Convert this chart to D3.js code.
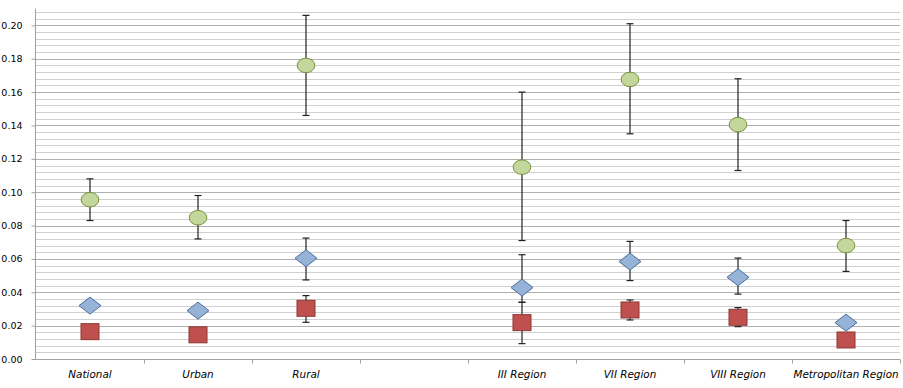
<!DOCTYPE html>
<html>
<head>
<meta charset="utf-8">
<script src="https://cdn.jsdelivr.net/npm/d3@7"></script>
<style>
  body { margin: 0; background: #fff; }
  svg { display: block; }
</style>
</head>
<body>
<div id="chart"></div>
<script>
// categories along the bottom (4th slot is an empty gap)
var categories = ["National", "Urban", "Rural", "", "III Region", "VII Region", "VIII Region", "Metropolitan Region"];

// green circles with error bars
var greenValues = [0.0955, 0.0847, 0.176, null, 0.115, 0.1676, 0.1405, 0.068];
var greenLow    = [0.083, 0.072, 0.146, null, 0.071, 0.135, 0.113, 0.0525];
var greenHigh   = [0.108, 0.098, 0.206, null, 0.160, 0.201, 0.168, 0.083];

// blue diamonds
var blueValues = [0.032, 0.029, 0.0604, null, 0.0428, 0.0584, 0.049, 0.0218];
var blueLow    = [null, null, 0.0474, null, 0.034, 0.047, 0.0389, null];
var blueHigh   = [null, null, 0.0725, null, 0.0625, 0.0705, 0.0605, null];

// red squares
var redValues = [0.0164, 0.0145, 0.0304, null, 0.0218, 0.0294, 0.025, 0.0114];
var redLow    = [null, null, 0.022, null, 0.0092, 0.0234, 0.0194, null];
var redHigh   = [null, null, 0.038, null, 0.034, 0.0354, 0.0308, null];

var yTicks = [0, 0.02, 0.04, 0.06, 0.08, 0.10, 0.12, 0.14, 0.16, 0.18, 0.20];

var width = 903, height = 388;
var margin = {top: 8.7, right: 3, bottom: 29, left: 36};

var svg = d3.select("#chart").append("svg")
    .attr("width", width)
    .attr("height", height);

var x = d3.scaleBand()
    .domain(d3.range(categories.length))
    .range([margin.left, width - margin.right]);

var y = d3.scaleLinear()
    .domain([0, 0.21])
    .range([height - margin.bottom, margin.top]);

// minor gridlines every 0.004
var minor = d3.range(0.004, 0.2081, 0.004).filter(function(v) {
    return Math.abs(v / 0.02 - Math.round(v / 0.02)) > 1e-6;
});
svg.append("g").selectAll("line")
    .data(minor)
  .enter().append("line")
    .attr("x1", margin.left).attr("x2", width - margin.right)
    .attr("y1", function(d) { return Math.round(y(d)) + 0.5; })
    .attr("y2", function(d) { return Math.round(y(d)) + 0.5; })
    .attr("stroke", "#d0d0d0")
    .attr("stroke-width", 1);

// major gridlines
svg.append("g").selectAll("line")
    .data(yTicks.slice(1))
  .enter().append("line")
    .attr("x1", margin.left).attr("x2", width - margin.right)
    .attr("y1", function(d) { return Math.round(y(d)) + 0.5; })
    .attr("y2", function(d) { return Math.round(y(d)) + 0.5; })
    .attr("stroke", "#b0b0b0")
    .attr("stroke-width", 1.2);

// y axis
var yAxis = svg.append("g")
    .attr("transform", "translate(" + (margin.left - 0.5) + ",0)")
    .call(d3.axisLeft(y).tickValues(yTicks).tickFormat(d3.format(".2f")).tickSize(4).tickPadding(9));
yAxis.select(".domain").attr("stroke", "#a0a0a0").attr("d", "M0," + y(0.21) + "V" + (y(0) + 1));
yAxis.selectAll(".tick line").attr("stroke", "#a0a0a0");
yAxis.selectAll("text")
    .attr("font-family", "'DejaVu Sans', Verdana, sans-serif")
    .attr("font-size", "9.5px")
    .attr("fill", "#000");

// x axis
var xAxis = svg.append("g")
    .attr("transform", "translate(0," + (Math.round(y(0)) + 0.5) + ")");
xAxis.append("line")
    .attr("x1", margin.left - 4).attr("x2", width - margin.right)
    .attr("stroke", "#a0a0a0");
xAxis.selectAll(".xtick")
    .data(d3.range(1, categories.length + 1))
  .enter().append("line")
    .attr("class", "xtick")
    .attr("x1", function(d) { return Math.round(x.range()[0] + d * x.bandwidth()) + 0.5; })
    .attr("x2", function(d) { return Math.round(x.range()[0] + d * x.bandwidth()) + 0.5; })
    .attr("y1", 0).attr("y2", 4)
    .attr("stroke", "#a0a0a0");
xAxis.selectAll("text")
    .data(categories)
  .enter().append("text")
    .attr("x", function(d, i) { return x(i) + x.bandwidth() / 2; })
    .attr("y", 18)
    .attr("text-anchor", "middle")
    .attr("font-family", "'DejaVu Sans', Verdana, sans-serif")
    .attr("font-style", "italic")
    .attr("font-size", "10.4px")
    .attr("fill", "#000")
    .text(function(d) { return d; });

function cx(i) { return x(i) + x.bandwidth() / 2; }

// error bars
function errorBars(lows, highs) {
    var idx = d3.range(lows.length).filter(function(i) { return lows[i] != null; });
    var g = svg.append("g").attr("stroke", "#222").attr("stroke-width", 1.2);
    g.selectAll(".v").data(idx).enter().append("line")
        .attr("x1", function(i) { return cx(i); }).attr("x2", function(i) { return cx(i); })
        .attr("y1", function(i) { return y(highs[i]); })
        .attr("y2", function(i) { return y(lows[i]); });
    g.selectAll(".hi").data(idx).enter().append("line")
        .attr("x1", function(i) { return cx(i) - 3.5; }).attr("x2", function(i) { return cx(i) + 3.5; })
        .attr("y1", function(i) { return y(highs[i]); })
        .attr("y2", function(i) { return y(highs[i]); });
    g.selectAll(".lo").data(idx).enter().append("line")
        .attr("x1", function(i) { return cx(i) - 3.5; }).attr("x2", function(i) { return cx(i) + 3.5; })
        .attr("y1", function(i) { return y(lows[i]); })
        .attr("y2", function(i) { return y(lows[i]); });
}
errorBars(greenLow, greenHigh);
errorBars(blueLow, blueHigh);
errorBars(redLow, redHigh);

function present(vals) {
    return d3.range(vals.length).filter(function(i) { return vals[i] != null; });
}

// red squares
svg.append("g").selectAll("rect")
    .data(present(redValues))
  .enter().append("rect")
    .attr("x", function(i) { return cx(i) - 9; })
    .attr("y", function(i) { return y(redValues[i]) - 8; })
    .attr("width", 18).attr("height", 16)
    .attr("fill", "#c0504d")
    .attr("stroke", "#8c3836")
    .attr("stroke-width", 1);

// blue diamonds
svg.append("g").selectAll("path")
    .data(present(blueValues))
  .enter().append("path")
    .attr("d", function(i) {
        var px = cx(i), py = y(blueValues[i]);
        return "M" + (px - 11) + "," + py + "L" + px + "," + (py - 8.5) +
               "L" + (px + 11) + "," + py + "L" + px + "," + (py + 8.5) + "Z";
    })
    .attr("fill", "#95b3d7")
    .attr("stroke", "#4a6e9b")
    .attr("stroke-width", 1);

// green circles
svg.append("g").selectAll("ellipse")
    .data(present(greenValues))
  .enter().append("ellipse")
    .attr("cx", function(i) { return cx(i); })
    .attr("cy", function(i) { return y(greenValues[i]); })
    .attr("rx", 8.8).attr("ry", 7.3)
    .attr("fill", "#c3d69b")
    .attr("stroke", "#77933c")
    .attr("stroke-width", 1);
</script>
</body>
</html>
